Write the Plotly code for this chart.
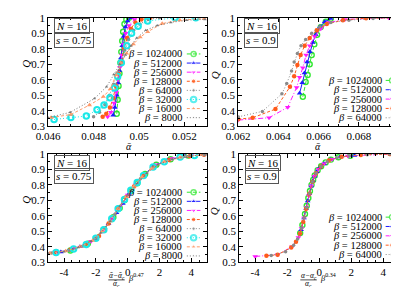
import plotly.graph_objects as go

W, H = 399, 287

# ---------------- data ----------------
betas_a = ["1024000", "512000", "256000", "128000", "64000", "32000", "16000", "8000"]
betas_b = ["1024000", "512000", "256000", "128000", "64000"]

# Panel 1: s = 0.75, Q vs alpha-bar
p1_x_1024000 = [0.04902, 0.04906, 0.04910, 0.04914, 0.04918, 0.04922, 0.04926, 0.04930, 0.04936, 0.04944, 0.04956]
p1_q_1024000 = [0.38, 0.47, 0.56, 0.64, 0.71, 0.78, 0.85, 0.91, 0.96, 0.99, 1.0]
p1_x_512000 = [0.04886, 0.04894, 0.04902, 0.04908, 0.04914, 0.04920, 0.04926, 0.04932, 0.04940, 0.04950, 0.04966]
p1_q_512000 = [0.37, 0.42, 0.50, 0.58, 0.66, 0.74, 0.82, 0.88, 0.94, 0.98, 1.0]
p1_x_256000 = [0.04862, 0.04876, 0.04890, 0.04900, 0.04908, 0.04916, 0.04924, 0.04932, 0.04942, 0.04956, 0.04980, 0.05010]
p1_q_256000 = [0.36, 0.39, 0.45, 0.52, 0.60, 0.68, 0.76, 0.83, 0.90, 0.95, 0.99, 1.0]
p1_x_128000 = [0.04840, 0.04856, 0.04872, 0.04886, 0.04898, 0.04910, 0.04922, 0.04934, 0.04948, 0.04964, 0.04984, 0.05010, 0.05050]
p1_q_128000 = [0.36, 0.38, 0.42, 0.48, 0.56, 0.64, 0.72, 0.80, 0.87, 0.93, 0.97, 0.99, 1.0]
p1_x_64000 = [0.04800, 0.04826, 0.04850, 0.04870, 0.04888, 0.04904, 0.04920, 0.04936, 0.04954, 0.04976, 0.05004, 0.05040, 0.05090]
p1_q_64000 = [0.36, 0.39, 0.44, 0.50, 0.57, 0.64, 0.71, 0.79, 0.86, 0.92, 0.96, 0.99, 1.0]
p1_x_32000 = [0.04626, 0.04700, 0.04768, 0.04815, 0.04846, 0.04872, 0.04892, 0.04906, 0.04922, 0.04946, 0.04967, 0.04996, 0.05038, 0.05159, 0.05250]
p1_q_32000 = [0.343, 0.355, 0.365, 0.405, 0.436, 0.484, 0.546, 0.62, 0.71, 0.82, 0.90, 0.946, 0.98, 1.0, 1.0]
p1_x_16000 = [0.04613, 0.04700, 0.04782, 0.04843, 0.04874, 0.04900, 0.04920, 0.04945, 0.04975, 0.05005, 0.05038, 0.05102, 0.05180, 0.05287]
p1_q_16000 = [0.355, 0.375, 0.436, 0.49, 0.54, 0.63, 0.71, 0.77, 0.83, 0.875, 0.91, 0.963, 0.985, 0.995]
p1_x_8000 = [0.04600, 0.04697, 0.04804, 0.04857, 0.04889, 0.04915, 0.04940, 0.04965, 0.04990, 0.05030, 0.05080, 0.05140, 0.05210, 0.05290]
p1_q_8000 = [0.355, 0.389, 0.478, 0.554, 0.633, 0.70, 0.76, 0.82, 0.87, 0.92, 0.95, 0.97, 0.985, 0.99]

# Panel 2: s = 0.9, Q vs alpha-bar
p2_x_1024000 = [0.06521, 0.06535, 0.06545, 0.06555, 0.06565, 0.06578, 0.06592, 0.06610, 0.06635, 0.06660]
p2_q_1024000 = [0.49, 0.585, 0.63, 0.70, 0.76, 0.83, 0.89, 0.94, 0.975, 0.995]
p2_x_512000 = [0.06505, 0.06518, 0.06529, 0.06542, 0.06556, 0.06570, 0.06585, 0.06605, 0.06630, 0.06660]
p2_q_512000 = [0.513, 0.58, 0.643, 0.715, 0.78, 0.84, 0.89, 0.94, 0.975, 0.995]
p2_x_256000 = [0.06200, 0.06353, 0.06446, 0.06490, 0.06505, 0.06521, 0.06537, 0.06555, 0.06580, 0.06610, 0.06650, 0.06730, 0.06947]
p2_q_256000 = [0.339, 0.354, 0.422, 0.55, 0.616, 0.678, 0.76, 0.82, 0.88, 0.93, 0.97, 0.99, 1.0]
p2_x_128000 = [0.06200, 0.06272, 0.06385, 0.06457, 0.06478, 0.06494, 0.06510, 0.06530, 0.06555, 0.06590, 0.06640, 0.06720, 0.06835, 0.07000]
p2_q_128000 = [0.345, 0.354, 0.41, 0.554, 0.622, 0.695, 0.76, 0.82, 0.87, 0.92, 0.96, 0.985, 0.998, 1.0]
p2_x_64000 = [0.06200, 0.06320, 0.06417, 0.06441, 0.06465, 0.06478, 0.06494, 0.06512, 0.06535, 0.06565, 0.06605, 0.06660, 0.06750, 0.06870, 0.07000]
p2_q_64000 = [0.36, 0.395, 0.509, 0.575, 0.657, 0.715, 0.77, 0.82, 0.86, 0.90, 0.94, 0.97, 0.985, 0.995, 1.0]

# Panel 3: s = 0.75, scaling collapse
p3_x_1024000 = [-3.6, -2.5, -1.5, -0.9, -0.5, -0.2, 0.2, 0.6, 1.1, 1.8, 2.7, 3.8]
p3_q_1024000 = [0.375, 0.42, 0.51, 0.59, 0.65, 0.70, 0.76, 0.81, 0.87, 0.93, 0.965, 0.99]
p3_x_512000 = [-4.2, -3.0, -2.0, -1.2, -0.7, -0.3, 0.1, 0.5, 1.0, 1.6, 2.5, 3.6]
p3_q_512000 = [0.366, 0.40, 0.45, 0.55, 0.62, 0.68, 0.745, 0.80, 0.86, 0.92, 0.96, 0.985]
p3_x_256000 = [-4.4, -3.3, -2.3, -1.6, -1.0, -0.5, 0.0, 0.5, 1.1, 1.8, 2.8, 4.0]
p3_q_256000 = [0.364, 0.39, 0.435, 0.50, 0.58, 0.66, 0.735, 0.80, 0.87, 0.93, 0.97, 0.99]
p3_x_128000 = [-4.6, -3.6, -2.6, -1.8, -1.2, -0.6, -0.1, 0.4, 1.0, 1.7, 2.6, 3.9, 4.8]
p3_q_128000 = [0.362, 0.38, 0.42, 0.47, 0.55, 0.645, 0.72, 0.79, 0.86, 0.92, 0.96, 0.985, 0.995]
p3_x_64000 = [-4.8, -3.7, -2.8, -2.0, -1.4, -0.8, -0.3, 0.2, 0.8, 1.5, 2.4, 3.6, 4.8]
p3_q_64000 = [0.36, 0.375, 0.405, 0.455, 0.52, 0.61, 0.69, 0.76, 0.84, 0.91, 0.955, 0.985, 0.995]
p3_x_32000 = [-4.5, -3.4, -2.6, -2.0, -1.5, -1.0, -0.6, -0.2, 0.2, 0.6, 1.0, 1.6, 2.3, 3.3, 4.2]
p3_q_32000 = [0.362, 0.385, 0.415, 0.455, 0.51, 0.58, 0.645, 0.705, 0.765, 0.815, 0.86, 0.915, 0.95, 0.98, 0.99]
p3_x_16000 = [-4.9, -3.9, -3.0, -2.2, -1.6, -1.1, -0.6, -0.1, 0.4, 0.9, 1.5, 2.3, 3.3, 4.6]
p3_q_16000 = [0.358, 0.372, 0.40, 0.44, 0.50, 0.565, 0.645, 0.72, 0.79, 0.85, 0.905, 0.95, 0.978, 0.993]
p3_x_8000 = [-5.0, -4.0, -3.1, -2.3, -1.7, -1.1, -0.5, 0.0, 0.6, 1.2, 1.9, 2.8, 3.9, 5.0]
p3_q_8000 = [0.358, 0.368, 0.395, 0.435, 0.49, 0.565, 0.66, 0.735, 0.81, 0.875, 0.93, 0.965, 0.987, 0.995]

# Panel 4: s = 0.9, scaling collapse
p4_x_1024000 = [-1.19, -1.05, -0.89, -0.78, -0.68, -0.58, -0.48, -0.38, -0.28, -0.1, 0.12, 0.4, 0.73, 1.2, 1.94]
p4_q_1024000 = [0.488, 0.54, 0.612, 0.665, 0.715, 0.76, 0.80, 0.832, 0.86, 0.895, 0.92, 0.945, 0.963, 0.978, 0.988]
p4_x_512000 = [-1.13, -0.95, -0.82, -0.72, -0.62, -0.5, -0.4, -0.3, -0.16, 0.02, 0.3, 0.7, 1.3, 2.2]
p4_q_512000 = [0.51, 0.585, 0.645, 0.695, 0.742, 0.792, 0.826, 0.855, 0.885, 0.91, 0.937, 0.962, 0.98, 0.99]
p4_x_256000 = [-4.0, -2.6, -1.7, -1.3, -1.1, -0.95, -0.8, -0.65, -0.5, -0.3, -0.05, 0.3, 0.8, 1.8, 4.6]
p4_q_256000 = [0.337, 0.348, 0.40, 0.46, 0.52, 0.585, 0.655, 0.73, 0.792, 0.855, 0.90, 0.937, 0.965, 0.987, 1.0]
p4_x_128000 = [-3.3, -2.6, -1.75, -1.45, -1.2, -1.0, -0.82, -0.62, -0.42, -0.2, 0.1, 0.6, 1.4, 2.6, 4.4]
p4_q_128000 = [0.341, 0.348, 0.395, 0.432, 0.485, 0.56, 0.645, 0.742, 0.82, 0.875, 0.918, 0.958, 0.982, 0.993, 0.999]
p4_x_64000 = [-3.0, -2.1, -1.6, -1.35, -1.1, -0.95, -0.8, -0.62, -0.42, -0.2, 0.1, 0.5, 1.1, 1.9, 3.0, 4.4]
p4_q_64000 = [0.343, 0.368, 0.41, 0.45, 0.52, 0.585, 0.655, 0.742, 0.82, 0.875, 0.918, 0.95, 0.975, 0.988, 0.995, 0.999]

x_ticks_1 = [0.046, 0.048, 0.05, 0.052]
x_ticks_2 = [0.062, 0.064, 0.066, 0.068, 0.07]
x_ticks_34 = [-4, -2, 0, 2, 4]
y_ticks = [0.3, 0.4, 0.5, 0.6, 0.7, 0.8, 0.9, 1.0]
y_tick_text = ["0.3", "0.4", "0.5", "0.6", "0.7", "0.8", "0.9", "1"]

# ---------------- styles ----------------
styles = {
    "1024000": dict(color="#2ee82e", symbol="circle-open", size=5, dash="4px,2px", mlw=1.4),
    "512000": dict(color="#1a1aff", symbol="triangle-up", size=5, dash="solid", mlw=0),
    "256000": dict(color="#ff1aff", symbol="triangle-down", size=5, dash="5px,2px,1px,2px", mlw=0),
    "128000": dict(color="#ff5a1a", symbol="circle", size=4.5, dash="3px,2px", mlw=0),
    "64000": dict(color="#8a8a8a", symbol="circle", size=3.5, dash="1px,2px", mlw=0),
    "32000": dict(color="#1ae8e8", symbol="circle-open", size=5.5, dash="1px,2px", mlw=2.0),
    "16000": dict(color="#ff9a6a", symbol="triangle-up", size=4.5, dash="3px,2px", mlw=0),
    "8000": dict(color="#777777", symbol="triangle-up", size=3, dash="1px,2px", mlw=0),
}

series = {
    1: [(b, globals()["p1_x_" + b], globals()["p1_q_" + b]) for b in betas_a],
    2: [(b, globals()["p2_x_" + b], globals()["p2_q_" + b]) for b in betas_b],
    3: [(b, globals()["p3_x_" + b], globals()["p3_q_" + b]) for b in betas_a],
    4: [(b, globals()["p4_x_" + b], globals()["p4_q_" + b]) for b in betas_b],
}

# panel pixel boxes: x0, x1, ytop, ybottom
boxes = {1: (29, 193, 4, 117), 2: (225, 391, 4, 117), 3: (29, 193, 146, 259), 4: (226, 391, 146, 259)}
xranges = {1: [0.046, 0.053], 2: [0.062, 0.07], 3: [-5, 5], 4: [-5, 5]}
xticks = {1: x_ticks_1, 2: x_ticks_2, 3: x_ticks_34, 4: x_ticks_34}
xticktext = {1: ["0.046", "0.048", "0.05", "0.052"], 2: ["0.062", "0.064", "0.066", "0.068", "0.07"],
             3: ["-4", "-2", "0", "2", "4"], 4: ["-4", "-2", "0", "2", "4"]}
xminor = {1: 0.0005, 2: 0.0005, 3: 0.5, 4: 0.5}

SERIF = "Liberation Serif, DejaVu Serif, serif"
fig = go.Figure()
layout = {}

def ax(i, letter):
    return letter + ("" if i == 1 else str(i))

for p in range(1, 5):
    x0, x1, yt, yb = boxes[p]
    xd = [x0 / W, x1 / W]
    yd = [1 - yb / H, 1 - yt / H]
    xa, ya = ax(p, "x"), ax(p, "y")
    common = dict(showline=True, linecolor="black", linewidth=1, mirror="allticks", ticks="inside",
                  ticklen=4, tickcolor="black", tickwidth=1, showgrid=False, zeroline=False,
                  tickfont=dict(family=SERIF, size=11, color="black"), fixedrange=True)
    layout[ax(p, "xaxis")] = dict(domain=xd, range=xranges[p], anchor=ya, tickvals=xticks[p],
                                  ticktext=xticktext[p],
                                  minor=dict(dtick=xminor[p], ticks="inside", ticklen=2, tickcolor="black", showgrid=False),
                                  **common)
    layout[ax(p, "yaxis")] = dict(domain=yd, range=[0.3, 1.0], anchor=xa, tickvals=y_ticks, ticktext=y_tick_text,
                                  minor=dict(dtick=0.05, ticks="inside", ticklen=2, tickcolor="black", showgrid=False),
                                  **common)
    # overlay axes for the legend samples (unit square)
    layout["xaxis" + str(p + 4)] = dict(overlaying=xa, range=[0, 1], visible=False, anchor="y" + str(p + 4), fixedrange=True)
    layout["yaxis" + str(p + 4)] = dict(overlaying=ya, range=[0, 1], visible=False, anchor="x" + str(p + 4), fixedrange=True)

    for b, xs, qs in series[p]:
        st = styles[b]
        mk = dict(color=st["color"], symbol=st["symbol"], size=st["size"])
        if st["mlw"]:
            mk["line"] = dict(color=st["color"], width=st["mlw"])
        fig.add_trace(go.Scatter(x=xs, y=qs, xaxis=xa, yaxis=ya, mode="lines+markers",
                                 line=dict(color=st["color"], width=1, dash=st["dash"]),
                                 marker=mk, showlegend=False, hoverinfo="skip"))


def note(xp, yp, text, size, xanchor="center", **kw):
    fig.add_annotation(x=xp / W, y=1 - yp / H, xref="paper", yref="paper", xanchor=xanchor, yanchor="middle",
                       text=text, showarrow=False, font=dict(family=SERIF, size=size, color="black"), **kw)


# ---------------- legends (text then sample, right-aligned) ----------------
leg_rows = {1: (41.7, 9.5), 2: (69.3, 9.75), 3: (186.0, 9.5), 4: (212.0, 9.75)}
leg_x = {1: (168, 172, 186), 2: (374, 377, 390), 3: (168, 172, 186), 4: (374, 377, 390)}
for p in range(1, 5):
    x0, x1, yt, yb = boxes[p]
    bl = betas_a if p in (1, 3) else betas_b
    y0, dy = leg_rows[p]
    tx, s0, s1 = leg_x[p]
    for k, b in enumerate(bl):
        ypx = y0 + k * dy
        note(tx, ypx, "<i>β</i> = " + b, 10.5, xanchor="right", borderpad=0)
        st = styles[b]
        fx = [(s0 - x0) / (x1 - x0), ((s0 + s1) / 2 - x0) / (x1 - x0), (s1 - x0) / (x1 - x0)]
        fy = [(yb - ypx) / (yb - yt)] * 3
        mk = dict(color=st["color"], symbol=st["symbol"], size=[0, st["size"], 0])
        if st["mlw"]:
            mk["line"] = dict(color=st["color"], width=st["mlw"])
        fig.add_trace(go.Scatter(x=fx, y=fy, xaxis="x" + str(p + 4), yaxis="y" + str(p + 4), mode="lines+markers",
                                 line=dict(color=st["color"], width=1, dash=st["dash"]), marker=mk,
                                 showlegend=False, hoverinfo="skip"))

# ---------------- boxed labels ----------------
s_vals = {1: "0.75", 2: "0.9", 3: "0.75", 4: "0.9"}
for p in range(1, 5):
    x0, x1, yt, yb = boxes[p]
    lx = x0 + 6
    note(lx, yt + 9, "<i>N</i> = 16", 11, xanchor="left", bordercolor="#555555", borderwidth=1, borderpad=1)
    note(lx, yt + 23, "<i>s</i> = " + s_vals[p], 11, xanchor="left", bordercolor="#555555", borderwidth=1, borderpad=1)

# ---------------- axis titles ----------------
q_pos = {1: (6, 52), 2: (201, 64), 3: (6, 194), 4: (200, 206)}
for p, (qx, qy) in q_pos.items():
    note(qx, qy, "<i>Q</i>", 11, textangle=-90)
note(112, 138.5, "<i>ᾱ</i>", 10, borderpad=0)
note(307, 138.5, "<i>ᾱ</i>", 10, borderpad=0)

# fraction-style labels for the collapse panels
frac = {3: ("ᾱ−ᾱ<sub>c</sub>", "ᾱ<sub>c</sub>", "0.47", 99.5, 91, 108),
        4: ("α−α<sub>c</sub>", "α<sub>c</sub>", "0.34", 297.5, 289, 306)}
for p, (num, den, ex, cx, lx0, lx1) in frac.items():
    note(cx, 273, "<i>" + num + "</i>", 7.5, borderpad=0)
    note(cx, 281.5, "<i>" + den + "</i>", 7.5, borderpad=0)
    fig.add_shape(type="line", xref="paper", yref="paper", x0=lx0 / W, x1=lx1 / W, y0=1 - 277.5 / H, y1=1 - 277.5 / H,
                  line=dict(color="black", width=0.7))
    note(lx1 + 2, 275.5, "<i>β</i><sup>" + ex + "</sup>", 8.5, xanchor="left", borderpad=0)

fig.update_layout(width=W, height=H, margin=dict(l=0, r=0, t=0, b=0, pad=0), plot_bgcolor="white",
                  paper_bgcolor="white", showlegend=False, **layout)
fig.write_html("out.html")
